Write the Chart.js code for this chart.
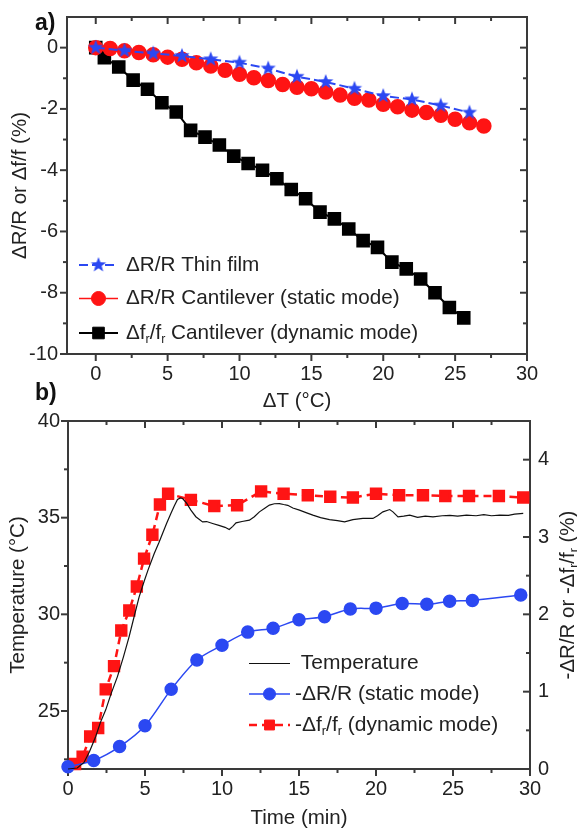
<!DOCTYPE html>
<html>
<head>
  <meta charset="utf-8">
  <title>Thin film / cantilever response vs temperature</title>
  <script src="https://cdn.jsdelivr.net/npm/chart.js"></script>
  <style>
    body { margin: 0; padding: 0; background: #fff; font-family: 'Liberation Sans', Arial, sans-serif; }
    #page { position: relative; width: 577px; height: 831px; overflow: hidden; }
    canvas { position: absolute; left: 0; }
    #chartA { top: 0; }
    #chartB { top: 400px; }
    .panel { position: absolute; font-weight: bold; font-size: 23px; line-height: 23px; color: #111; }
  </style>
</head>
<body>
  <div id="page">
    <canvas id="chartA" width="577" height="420"></canvas>
    <canvas id="chartB" width="577" height="431"></canvas>
    <div class="panel" style="left:35px;top:11px">a)</div>
    <div class="panel" style="left:35px;top:381px">b)</div>
  </div>

  <script>
    // ---- panel a) data ----
    const filmDT = [0, 2, 4, 6, 8, 10, 12, 14, 16, 18, 20, 22, 24, 26];
    const filmDRR = [0, -0.1, -0.19, -0.27, -0.38, -0.49, -0.68, -0.95, -1.12, -1.34, -1.58, -1.69, -1.89, -2.12];

    const staticDT = [0, 1, 2, 3, 4, 5, 6, 7, 8, 9, 10, 11, 12, 13, 14, 15, 16, 17, 18, 19, 20, 21, 22, 23, 24, 25, 26, 27];
    const staticDRR = [0, -0.03, -0.1, -0.16, -0.23, -0.31, -0.38, -0.49, -0.6, -0.74, -0.87, -0.98, -1.07, -1.2,
                       -1.29, -1.34, -1.45, -1.55, -1.65, -1.71, -1.85, -1.93, -2.04, -2.12, -2.21, -2.34, -2.45, -2.56];

    const dynDT = [0, 0.6, 1.6, 2.6, 3.6, 4.6, 5.6, 6.6, 7.6, 8.6, 9.6, 10.6, 11.6, 12.6, 13.6,
                   14.6, 15.6, 16.6, 17.6, 18.6, 19.6, 20.6, 21.6, 22.6, 23.6, 24.6, 25.6];
    const dynDFF = [0, -0.33, -0.63, -1.06, -1.36, -1.8, -2.1, -2.7, -2.92, -3.18, -3.54, -3.78, -4.0, -4.28, -4.63,
                    -4.93, -5.37, -5.59, -5.92, -6.3, -6.52, -7.0, -7.22, -7.55, -8.0, -8.48, -8.82];

    const aXTicks = [0, 5, 10, 15, 20, 25, 30];
    const aXMinor = [2.5, 7.5, 12.5, 17.5, 22.5, 27.5];
    const aYTicks = [-10, -8, -6, -4, -2, 0];
    const aYMinor = [-9, -7, -5, -3, -1];

    // ---- panel b) data ----
    const tempTime = [0, 0.6, 1.04, 1.4, 1.8, 2.1, 2.45, 2.8, 3.21, 3.6, 3.97, 4.3, 4.62, 4.94, 5.2, 5.6, 5.9, 6.14,
                      6.4, 6.68, 6.9, 7.11, 7.3, 7.44, 7.7, 7.98, 8.3, 8.74, 9.0, 9.39, 9.8, 10.2, 10.47, 10.7, 10.91,
                      11.3, 11.78, 12.1, 12.43, 12.8, 13.08, 13.4, 13.73, 14.0, 14.27, 14.6, 15.03, 15.5, 15.9, 16.4,
                      16.98, 17.5, 17.96, 18.5, 19.15, 19.8, 20.1, 20.45, 20.89, 21.1, 21.43, 21.8, 22.19, 22.7, 23.2,
                      23.7, 24.3, 24.8, 25.3, 25.88, 26.5, 27.0, 27.5, 28.04, 28.6, 29.0, 29.56];
    const tempC = [22.0, 22.05, 22.34, 22.9, 23.68, 24.4, 25.06, 25.9, 26.78, 27.8, 28.85, 29.9, 30.9, 31.7, 32.3, 33.15,
                   33.7, 34.18, 34.7, 35.22, 35.6, 35.94, 36.02, 35.99, 35.75, 35.39, 35.05, 34.78, 34.8, 34.7, 34.6,
                   34.5, 34.39, 34.55, 34.73, 34.8, 34.87, 35.05, 35.3, 35.5, 35.65, 35.72, 35.73, 35.68, 35.64, 35.5,
                   35.39, 35.25, 35.13, 35.0, 34.9, 34.85, 34.78, 34.9, 34.96, 34.96, 35.1, 35.3, 35.42, 35.3, 35.04,
                   35.08, 35.13, 35.02, 35.08, 35.04, 35.1, 35.12, 35.08, 35.13, 35.1, 35.16, 35.1, 35.13, 35.12,
                   35.18, 35.22];

    const staticTime = [0, 1.67, 3.35, 5.0, 6.7, 8.37, 10.0, 11.67, 13.32, 15.0, 16.66, 18.33, 20.0, 21.7, 23.3, 24.78, 26.26, 29.4];
    const staticNeg = [0.03, 0.11, 0.29, 0.56, 1.03, 1.41, 1.6, 1.77, 1.82, 1.93, 1.97, 2.07, 2.08, 2.14, 2.13, 2.17, 2.18, 2.25];

    const dynTime = [0.46, 0.95, 1.44, 1.96, 2.45, 2.99, 3.46, 3.98, 4.47, 4.94, 5.48, 5.97, 6.5, 7.98, 9.5, 10.98,
                     12.54, 14.0, 15.57, 17.03, 18.5, 20.0, 21.5, 23.05, 24.5, 26.04, 27.98, 29.56];
    const dynNeg = [0.065, 0.16, 0.42, 0.53, 1.03, 1.33, 1.79, 2.05, 2.36, 2.72, 3.03, 3.42, 3.56, 3.48, 3.40, 3.41,
                    3.59, 3.56, 3.54, 3.52, 3.51, 3.56, 3.54, 3.54, 3.53, 3.53, 3.53, 3.51];

    const bXTicks = [0, 5, 10, 15, 20, 25, 30];
    const bXMinor = [2.5, 7.5, 12.5, 17.5, 22.5, 27.5];
    const bYTicks = [25, 30, 35, 40];
    const bYMinor = [22.5, 27.5, 32.5, 37.5];
    const bY2Ticks = [0, 1, 2, 3, 4];
    const bY2Minor = [0.5, 1.5, 2.5, 3.5];

    const FONT = "'Liberation Sans', Arial, sans-serif";
    const BLUE = '#2b48f2';
    const RED = '#ff1414';
    Chart.defaults.font.family = FONT;
    Chart.defaults.color = '#222';

    const pts = (xs, ys) => xs.map((x, i) => ({ x: x, y: ys[i] }));

    // filled five-point star for the thin film series
    function makeStar(r, color) {
      const c = document.createElement('canvas');
      const s = Math.ceil(r * 2) + 2;
      c.width = s; c.height = s;
      const g = c.getContext('2d');
      g.beginPath();
      for (let i = 0; i < 10; i++) {
        const rad = i % 2 ? r * 0.42 : r;
        const ang = -Math.PI / 2 + i * Math.PI / 5;
        g.lineTo(s / 2 + rad * Math.cos(ang), s / 2 + rad * Math.sin(ang));
      }
      g.closePath();
      g.fillStyle = color;
      g.fill();
      return c;
    }
    const star = makeStar(8, BLUE);

    // fixed axis box sizes so the plot areas land where the figure has them
    function fixBox(size) {
      return s => {
        if (s.isHorizontal()) s.height = size; else s.width = size;
        s.paddingLeft = s.paddingRight = s.paddingTop = s.paddingBottom = 0;
      };
    }
    const setTicks = vals => s => { s.ticks = vals.map(v => ({ value: v })); };

    // text with subscripts, drawn left to right
    function drawRich(ctx, segs, x, y, size) {
      let cx = x;
      segs.forEach(([txt, sub]) => {
        const fs = sub ? size * 0.6 : size;
        ctx.font = fs + 'px ' + FONT;
        ctx.fillText(txt, cx, sub ? y + size * 0.3 : y);
        cx += ctx.measureText(txt).width;
      });
      return cx - x;
    }
    function richWidth(ctx, segs, size) {
      let w = 0;
      segs.forEach(([txt, sub]) => {
        ctx.font = (sub ? size * 0.6 : size) + 'px ' + FONT;
        w += ctx.measureText(txt).width;
      });
      return w;
    }

    // box frame + tick marks (outward on left/bottom, inward on top/right)
    const framePlugin = {
      id: 'frame',
      beforeDatasetsDraw(chart, args, opts) {
        const { ctx, chartArea: a } = chart;
        ctx.save();
        ctx.strokeStyle = '#3a3a3a';
        ctx.lineWidth = 2;
        ctx.strokeRect(a.left, a.top, a.right - a.left, a.bottom - a.top);
        opts.sides.forEach(sd => {
          const s = chart.scales[sd.scale];
          const draw = (vals, len) => vals.forEach(v => {
            const p = s.getPixelForValue(v);
            ctx.beginPath();
            if (sd.side === 'bottom') { ctx.moveTo(p, a.bottom); ctx.lineTo(p, a.bottom + len); }
            if (sd.side === 'top') { ctx.moveTo(p, a.top); ctx.lineTo(p, a.top + len); }
            if (sd.side === 'left') { ctx.moveTo(a.left, p); ctx.lineTo(a.left - len, p); }
            if (sd.side === 'right') { ctx.moveTo(a.right, p); ctx.lineTo(a.right - len, p); }
            ctx.stroke();
          });
          draw(sd.major, 7);
          draw(sd.minor, 4);
        });
        ctx.restore();
      }
    };

    // legend like the original: line sample with marker, then text
    const richLegend = {
      id: 'richLegend',
      afterDraw(chart, args, opts) {
        const ctx = chart.ctx;
        ctx.save();
        opts.items.forEach(it => {
          const ds = chart.data.datasets[it.ds];
          ctx.strokeStyle = ds.borderColor;
          ctx.lineWidth = ds.borderWidth;
          ctx.setLineDash(ds.borderDash || []);
          ctx.beginPath();
          ctx.moveTo(opts.x1, it.y);
          ctx.lineTo(opts.x2, it.y);
          ctx.stroke();
          ctx.setLineDash([]);
          if (ds.pointRadius > 0) {
            ctx.fillStyle = ds.pointBackgroundColor;
            ctx.strokeStyle = ds.pointBorderColor;
            ctx.lineWidth = 1;
            Chart.helpers.drawPoint(ctx, { pointStyle: ds.pointStyle, radius: ds.pointRadius, rotation: 0, borderWidth: 1 },
              (opts.x1 + opts.x2) / 2, it.y);
          }
          ctx.fillStyle = '#222';
          ctx.textBaseline = 'middle';
          ctx.textAlign = 'left';
          drawRich(ctx, it.segs, opts.tx, it.y, opts.size);
        });
        if (opts.rightTitle) {
          const a = chart.chartArea;
          const t = opts.rightTitle;
          const w = richWidth(ctx, t.segs, t.size);
          ctx.translate(t.x, (a.top + a.bottom) / 2);
          ctx.rotate(-Math.PI / 2);
          ctx.fillStyle = '#222';
          ctx.textBaseline = 'middle';
          drawRich(ctx, t.segs, -w / 2, 0, t.size);
        }
        ctx.restore();
      }
    };

    const tickFont = { size: 20 };
    const titleFont = { size: 20.5 };
    const noGrid = { display: false, drawTicks: false };

    // ---------------- panel a) ----------------
    new Chart(document.getElementById('chartA'), {
      type: 'line',
      data: {
        datasets: [
          {
            label: 'ΔR/R Thin film',
            data: pts(filmDT, filmDRR),
            borderColor: BLUE, borderWidth: 2, borderDash: [9, 4],
            pointStyle: star, pointRadius: 8, pointBackgroundColor: BLUE, pointBorderColor: BLUE,
            clip: false
          },
          {
            label: 'ΔR/R Cantilever (static mode)',
            data: pts(staticDT, staticDRR),
            borderColor: RED, borderWidth: 1.5,
            pointStyle: 'circle', pointRadius: 7, pointBackgroundColor: RED, pointBorderColor: RED,
            clip: false
          },
          {
            label: 'Δfr/fr Cantilever (dynamic mode)',
            data: pts(dynDT, dynDFF),
            borderColor: '#000', borderWidth: 2,
            pointStyle: 'rect', pointRadius: 8.2, pointBackgroundColor: '#000', pointBorderColor: '#000',
            clip: false
          }
        ]
      },
      options: {
        responsive: false,
        animation: false,
        layout: { padding: { left: 0, top: 17, right: 50, bottom: 0 } },
        scales: {
          x: {
            type: 'linear', min: -2, max: 30,
            afterBuildTicks: setTicks(aXTicks), afterFit: fixBox(66),
            grid: noGrid, border: { display: false },
            ticks: { font: tickFont, padding: 8, color: '#222', callback: v => String(v) },
            title: { display: true, text: 'ΔT (°C)', font: titleFont, color: '#222', padding: { top: 0, bottom: 6 } }
          },
          y: {
            type: 'linear', min: -10, max: 1,
            afterBuildTicks: setTicks(aYTicks), afterFit: fixBox(67),
            grid: noGrid, border: { display: false },
            ticks: { font: tickFont, padding: 9, color: '#222', callback: v => String(v) },
            title: { display: true, text: 'ΔR/R or Δf/f (%)', font: titleFont, color: '#222', padding: { top: 8, bottom: 0 } }
          }
        },
        plugins: {
          legend: { display: false },
          tooltip: { enabled: false },
          frame: {
            sides: [
              { side: 'bottom', scale: 'x', major: aXTicks, minor: aXMinor },
              { side: 'top', scale: 'x', major: aXTicks, minor: aXMinor },
              { side: 'left', scale: 'y', major: aYTicks, minor: aYMinor },
              { side: 'right', scale: 'y', major: aYTicks, minor: aYMinor }
            ]
          },
          richLegend: {
            x1: 79, x2: 118, tx: 126, size: 20.7,
            items: [
              { ds: 0, y: 265, segs: [['ΔR/R Thin film']] },
              { ds: 1, y: 298.5, segs: [['ΔR/R Cantilever (static mode)']] },
              { ds: 2, y: 333, segs: [['Δf'], ['r', true], ['/f'], ['r', true], [' Cantilever (dynamic mode)']] }
            ]
          }
        }
      },
      plugins: [framePlugin, richLegend]
    });

    // ---------------- panel b) ----------------
    new Chart(document.getElementById('chartB'), {
      type: 'line',
      data: {
        datasets: [
          {
            label: 'Temperature',
            data: pts(tempTime, tempC),
            yAxisID: 'y',
            borderColor: '#111', borderWidth: 1.2,
            pointRadius: 0, clip: false
          },
          {
            label: '-ΔR/R (static mode)',
            data: pts(staticTime, staticNeg),
            yAxisID: 'y2',
            borderColor: BLUE, borderWidth: 1.5, tension: 0.3,
            pointStyle: 'circle', pointRadius: 6, pointBackgroundColor: BLUE, pointBorderColor: BLUE,
            clip: false
          },
          {
            label: '-Δfr/fr (dynamic mode)',
            data: pts(dynTime, dynNeg),
            yAxisID: 'y2',
            borderColor: RED, borderWidth: 2.5, borderDash: [8, 5],
            pointStyle: 'rect', pointRadius: 7, pointBackgroundColor: RED, pointBorderColor: RED,
            clip: false
          }
        ]
      },
      options: {
        responsive: false,
        animation: false,
        layout: { padding: { left: 0, top: 21, right: 0, bottom: 0 } },
        scales: {
          x: {
            type: 'linear', min: 0, max: 30,
            afterBuildTicks: setTicks(bXTicks), afterFit: fixBox(62),
            grid: noGrid, border: { display: false },
            ticks: { font: tickFont, padding: 8, color: '#222', callback: v => String(v) },
            title: { display: true, text: 'Time (min)', font: titleFont, color: '#222', padding: { top: 0, bottom: 0 } }
          },
          y: {
            type: 'linear', position: 'left', min: 22, max: 40,
            afterBuildTicks: setTicks(bYTicks), afterFit: fixBox(68),
            grid: noGrid, border: { display: false },
            ticks: { font: tickFont, padding: 8, color: '#222', callback: v => String(v) },
            title: { display: true, text: 'Temperature (°C)', font: titleFont, color: '#222', padding: { top: 6, bottom: 0 } }
          },
          y2: {
            type: 'linear', position: 'right', min: 0, max: 4.5,
            afterBuildTicks: setTicks(bY2Ticks), afterFit: fixBox(47),
            grid: noGrid, border: { display: false },
            ticks: { font: tickFont, padding: 8, color: '#222', callback: v => String(v) }
          }
        },
        plugins: {
          legend: { display: false },
          tooltip: { enabled: false },
          frame: {
            sides: [
              { side: 'bottom', scale: 'x', major: bXTicks, minor: bXMinor },
              { side: 'top', scale: 'x', major: bXTicks, minor: bXMinor },
              { side: 'left', scale: 'y', major: bYTicks, minor: bYMinor },
              { side: 'right', scale: 'y2', major: bY2Ticks, minor: bY2Minor }
            ]
          },
          richLegend: {
            x1: 249, x2: 290, tx: 295, size: 21,
            items: [
              { ds: 0, y: 263.5, segs: [[' Temperature']] },
              { ds: 1, y: 294, segs: [['-ΔR/R (static mode)']] },
              { ds: 2, y: 325, segs: [['-Δf'], ['r', true], ['/f'], ['r', true], [' (dynamic mode)']] }
            ],
            rightTitle: { x: 568, size: 20.5, segs: [['-ΔR/R or -Δf'], ['r', true], ['/f'], ['r', true], [' (%)']] }
          }
        }
      },
      plugins: [framePlugin, richLegend]
    });
  </script>
</body>
</html>
